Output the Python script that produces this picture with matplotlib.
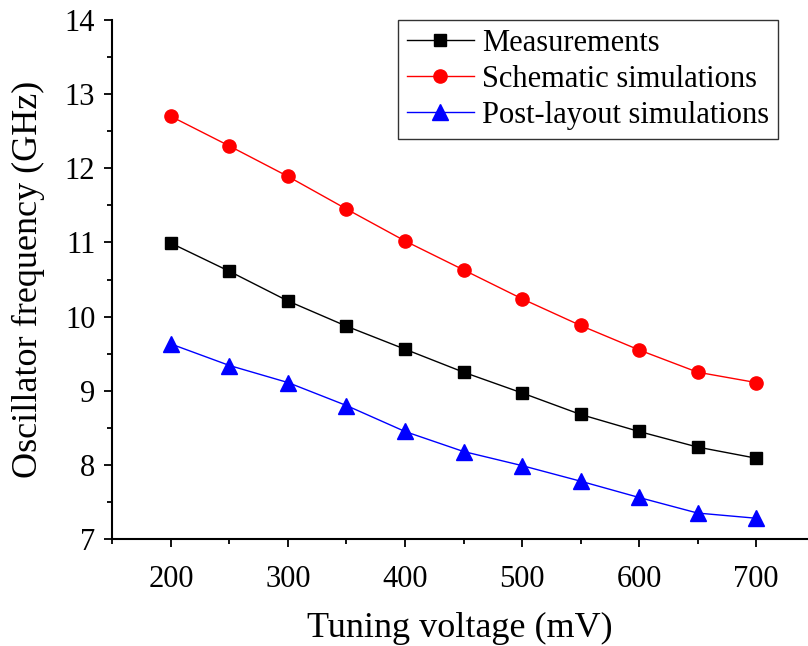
import matplotlib
matplotlib.use("Agg")
import matplotlib.pyplot as plt
from matplotlib.ticker import MultipleLocator

plt.rcParams['font.family'] = ['Liberation Serif', 'DejaVu Serif']
plt.rcParams['mathtext.fontset'] = 'stix'

voltage = [200, 250, 300, 350, 400, 450, 500, 550, 600, 650, 700]
measurements = [10.99, 10.61, 10.21, 9.87, 9.56, 9.25, 8.97, 8.68, 8.45, 8.24, 8.09]
schematic = [12.70, 12.30, 11.89, 11.45, 11.02, 10.63, 10.24, 9.88, 9.55, 9.25, 9.11]
postlayout = [9.63, 9.34, 9.11, 8.80, 8.45, 8.18, 7.99, 7.78, 7.56, 7.35, 7.28]

labels = ["Measurements", "Schematic simulations", "Post-layout simulations"]
xticks = [200, 300, 400, 500, 600, 700]
yticks = [7, 8, 9, 10, 11, 12, 13, 14]

fig = plt.figure(figsize=(8.08, 6.46), dpi=100)
ax = fig.add_axes([112/808, 1-539/646, 1-112/808, (539-20)/646])

ax.plot(voltage, measurements, color='black', lw=1.0, marker='s', ms=8,
        label=labels[0])
ax.plot(voltage, schematic, color='red', lw=1.0, marker='o', ms=9.5,
        label=labels[1])
ax.plot(voltage, postlayout, color='blue', lw=1.0, marker='^', ms=11,
        label=labels[2])

ax.set_xlim(149.6, 744.4)
ax.set_ylim(7, 14)
ax.set_xticks(xticks)
ax.set_yticks(yticks)
ax.xaxis.set_minor_locator(MultipleLocator(50))
ax.yaxis.set_minor_locator(MultipleLocator(0.5))

for s in ['top', 'right']:
    ax.spines[s].set_visible(False)
for s in ['left', 'bottom']:
    ax.spines[s].set_linewidth(1.5)

ax.tick_params(axis='both', which='major', direction='out', length=6, width=1.3,
               labelsize=22)
ax.tick_params(axis='both', which='minor', direction='out', length=3.5, width=1.3)
ax.tick_params(axis='x', which='major', pad=13)
ax.tick_params(axis='y', which='major', pad=6)

ax.set_xlabel("Tuning voltage (mV)", fontsize=26, labelpad=13)
ax.set_ylabel("Oscillator frequency (GHz)", fontsize=26, labelpad=14)

leg = ax.legend(loc='upper right', bbox_to_anchor=(778/808, 1-20/646),
                bbox_transform=fig.transFigure, fontsize=22, frameon=True,
                fancybox=False, edgecolor='black', handlelength=2.2,
                handletextpad=0.25, borderpad=0.3, labelspacing=0.22,
                borderaxespad=0)
leg.get_frame().set_linewidth(1.0)

fig.savefig("out.png", dpi=100)
